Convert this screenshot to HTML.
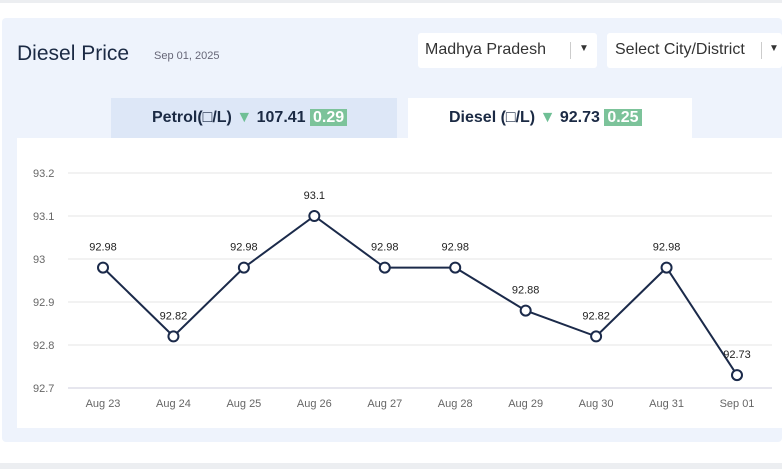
<!DOCTYPE html>
<html><head><meta charset="utf-8"><style>
body{margin:0;width:782px;height:469px;background:#fff;font-family:"Liberation Sans",sans-serif;position:relative;overflow:hidden}
.abs{position:absolute}
</style></head><body>
<div class="abs" style="left:0;top:0;width:782px;height:3px;background:#eceef1"></div>
<div class="abs" style="left:2px;top:18px;width:780px;height:424px;background:#eef3fc;border-radius:4px"></div>
<div class="abs" style="left:17px;top:42px;font-size:21px;color:#1b2a44">Diesel Price</div>
<div class="abs" style="left:154px;top:50px;font-size:11px;color:#667">Sep 01, 2025</div>
<div class="abs" style="left:418px;top:33px;width:179px;height:35px;background:#fff;border-radius:3px;font-size:16px;color:#333">
 <span style="position:absolute;left:7px;top:8px">Madhya Pradesh</span>
 <span style="position:absolute;left:152px;top:9px;width:1px;height:17px;background:#ccc"></span>
 <span style="position:absolute;left:161px;top:10px;font-size:10px">▼</span></div>
<div class="abs" style="left:607px;top:33px;width:175px;height:35px;background:#fff;border-radius:3px;font-size:16px;color:#333">
 <span style="position:absolute;left:8px;top:8px">Select City/District</span>
 <span style="position:absolute;left:154px;top:9px;width:1px;height:17px;background:#ccc"></span>
 <span style="position:absolute;left:162px;top:10px;font-size:10px">▼</span></div>
<div class="abs" style="left:111px;top:98px;width:286px;height:40px;background:#dde7f7;font-size:16px;font-weight:bold;color:#1b2a44">
 <span style="position:absolute;left:41px;top:11px">Petrol(□/L) <span style="color:#6fbf95">▼</span> 107.41 <span style="background:#7cc39a;color:#fff;padding:0 3px">0.29</span></span></div>
<div class="abs" style="left:408px;top:98px;width:284px;height:40px;background:#fff;font-size:16px;font-weight:bold;color:#1b2a44">
 <span style="position:absolute;left:41px;top:11px">Diesel (□/L) <span style="color:#6fbf95">▼</span> 92.73 <span style="background:#7cc39a;color:#fff;padding:0 3px">0.25</span></span></div>
<div class="abs" style="left:17px;top:138px;width:765px;height:290px;background:#fff"></div>
<div class="abs" style="left:0;top:463px;width:782px;height:6px;background:#eceef1"></div>
<svg class="abs" style="left:0;top:0" width="782" height="469" id="chart"></svg>
<script>
const categories=["Aug 23","Aug 24","Aug 25","Aug 26","Aug 27","Aug 28","Aug 29","Aug 30","Aug 31","Sep 01"];
const values=[92.98,92.82,92.98,93.1,92.98,92.98,92.88,92.82,92.98,92.73];
const yTicks=[92.7,92.8,92.9,93,93.1,93.2];
const yTickLabels=["92.7","92.8","92.9","93","93.1","93.2"];
const svg=document.getElementById('chart');const NS="http://www.w3.org/2000/svg";
const x=i=>103+i*(737-103)/(categories.length-1);
const y=v=>388-(v-92.7)*(388-173)/0.5;
function mk(t,a){const e=document.createElementNS(NS,t);for(const k in a)e.setAttribute(k,a[k]);svg.appendChild(e);return e;}
yTicks.forEach((t,i)=>{
 const g=mk('line',{x1:68,x2:772,y1:y(t),y2:y(t),stroke:i==0?'#ccd':'#e6e6e6'});
 
 
 const l=mk('text',{x:33,y:y(t)+4,'font-size':11,fill:'#666','font-family':'Liberation Sans'});l.textContent=yTickLabels[i];
 
 
});
categories.forEach((c,i)=>{
 const l=mk('text',{x:x(i),y:407,'font-size':11,fill:'#666','text-anchor':'middle','font-family':'Liberation Sans'});l.textContent=c;
 
 
});
const p=mk('polyline',{points:values.map((v,i)=>x(i)+','+y(v)).join(' '),fill:'none',stroke:'#1b2a4a','stroke-width':2});


values.forEach((v,i)=>{
 const c=mk('circle',{cx:x(i),cy:y(v),r:5,fill:'#fff',stroke:'#1b2a4a','stroke-width':2});
 
 
 const t=mk('text',{x:x(i),y:y(v)-17,'font-size':11,fill:'#222','text-anchor':'middle','font-family':'Liberation Sans'});t.textContent=String(v);
 
 
});
</script>
</body></html>
